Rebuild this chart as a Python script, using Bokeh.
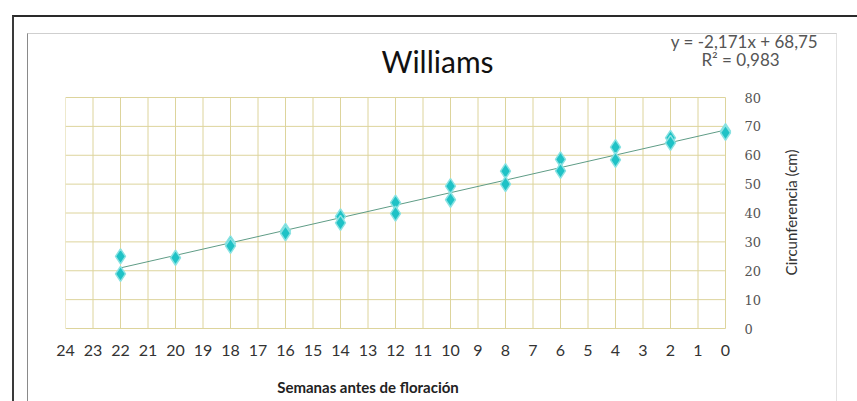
import math
from bokeh.plotting import figure
from bokeh.models import Range1d, FixedTicker, LinearAxis, InlineStyleSheet
from bokeh.core.properties import value
from bokeh.embed import file_html
from bokeh.resources import INLINE

weeks = [22, 22, 20, 18, 18, 16, 16, 14, 14, 12, 12, 10, 10, 8, 8, 6, 6, 4, 4, 2, 2, 0, 0]
circ = [25.0, 18.9, 24.5, 29.5, 28.6, 33.8, 33.0, 38.8, 36.6, 43.6, 39.8,
        49.3, 44.6, 54.5, 50.0, 58.6, 54.6, 62.8, 58.4, 66.0, 64.3, 68.3, 67.8]
slope = -2.171
intercept = 68.75
trend_x = [22, 0]
x_ticks = list(range(0, 25))
y_ticks = list(range(0, 81, 10))
title_text = "Williams"
eq_text = "y = -2,171x + 68,75"
r2_text = "R² = 0,983"
x_label = "Semanas antes de floración"
y_label = "Circunferencia (cm)"

W, H = 857, 401
# where x=24 / x=0 and y=0 / y=80 sit on the canvas (px)
PX24, PX0, PY0, PY80 = 65, 725, 328, 97
FR, FT, FB = 820, 28, 336  # the frame reaches further to hold the texts


def px_to_x(cx):
    return 24 + (cx - PX24) * (0 - 24) / (PX0 - PX24)


def px_to_y(cy):
    return (PY0 - cy) * 80 / (PY0 - PY80)


css = """
:host::before { content: ''; position: absolute; left: 12px; top: 15px; width: 845px; height: 386px;
  border-top: 2px solid #2a2a2a; border-left: 2px solid #3a3a3a; pointer-events: none; z-index: 1000; }
:host::after { content: ''; position: absolute; left: 27px; top: 33px; width: 808px; height: 370px;
  border-top: 1px solid #cfcfcf; border-left: 1px solid #8a8a8a; border-right: 1px solid #e2e2e2;
  pointer-events: none; z-index: 1000; }
"""

p = figure(width=W, height=H, output_backend="svg", toolbar_location=None,
           x_range=Range1d(24, px_to_x(FR)), y_range=Range1d(px_to_y(FB), px_to_y(FT)),
           y_axis_location="right",
           min_border_left=PX24, min_border_right=W - FR, min_border_top=FT,
           min_border_bottom=H - FB)
p.stylesheets = [InlineStyleSheet(css=css)]
p.outline_line_color = None
p.background_fill_color = "white"
p.xgrid.visible = False
p.ygrid.visible = False

# grid limited to the 0..24 x 0..80 area
grid_col = "#ddd49c"
p.segment(x0=x_ticks, y0=[0] * len(x_ticks), x1=x_ticks, y1=[80] * len(x_ticks),
          line_color=grid_col, line_width=1)
p.segment(x0=[24] * len(y_ticks), y0=y_ticks, x1=[0] * len(y_ticks), y1=y_ticks,
          line_color=grid_col, line_width=1)

p.xaxis.ticker = FixedTicker(ticks=x_ticks)
p.yaxis.ticker = FixedTicker(ticks=y_ticks)
for ax in (p.xaxis[0], p.yaxis[0]):
    ax.axis_line_color = None
    ax.major_tick_line_color = None
    ax.minor_tick_line_color = None
    ax.major_tick_in = 0
    ax.major_tick_out = 0
p.xaxis.major_label_text_font = "Lato"
p.xaxis.major_label_text_font_size = "16px"
p.xaxis.major_label_text_color = "#333333"
p.xaxis.major_label_standoff = 8
p.yaxis.fixed_location = 0
p.yaxis.major_label_text_font = "DejaVu Serif"
p.yaxis.major_label_text_font_size = "13px"
p.yaxis.major_label_text_color = "#555555"
p.yaxis.major_label_standoff = 19

# x-axis title carried by a second, tick-less axis below
xl = LinearAxis(ticker=FixedTicker(ticks=[13]), major_label_overrides={13: x_label})
xl.axis_line_color = None
xl.major_tick_line_color = None
xl.minor_tick_line_color = None
xl.major_tick_in = 0
xl.major_tick_out = 0
xl.major_label_standoff = 19
xl.major_label_text_font = "Lato"
xl.major_label_text_font_size = "15px"
xl.major_label_text_font_style = "bold"
xl.major_label_text_color = "#222222"
p.add_layout(xl, "below")

ty = [intercept + slope * x for x in trend_x]
p.line(trend_x, ty, line_color="#5f9c86", line_width=1)
p.scatter(weeks, circ, marker="diamond", size=15, fill_color="#1fc2c6",
          line_color="#8ae2e2", line_width=1.5)


def txt(cx, cy, text, size, color, align, angle=0.0, style="normal"):
    p.text(x=[px_to_x(cx)], y=[px_to_y(cy)], text=[text], text_font=value("Lato"),
           text_font_size=size, text_color=color, text_align=align,
           text_baseline="middle", angle=angle, text_font_style=style)


txt(437, 60, title_text, "30px", "#111111", "center")
txt(744, 41, eq_text, "17px", "#555555", "center")
txt(740, 59, r2_text, "17px", "#555555", "center")
txt(790, 212, y_label, "15px", "#333333", "center", angle=math.pi / 2)

open("out.html", "w").write(file_html(p, INLINE))
